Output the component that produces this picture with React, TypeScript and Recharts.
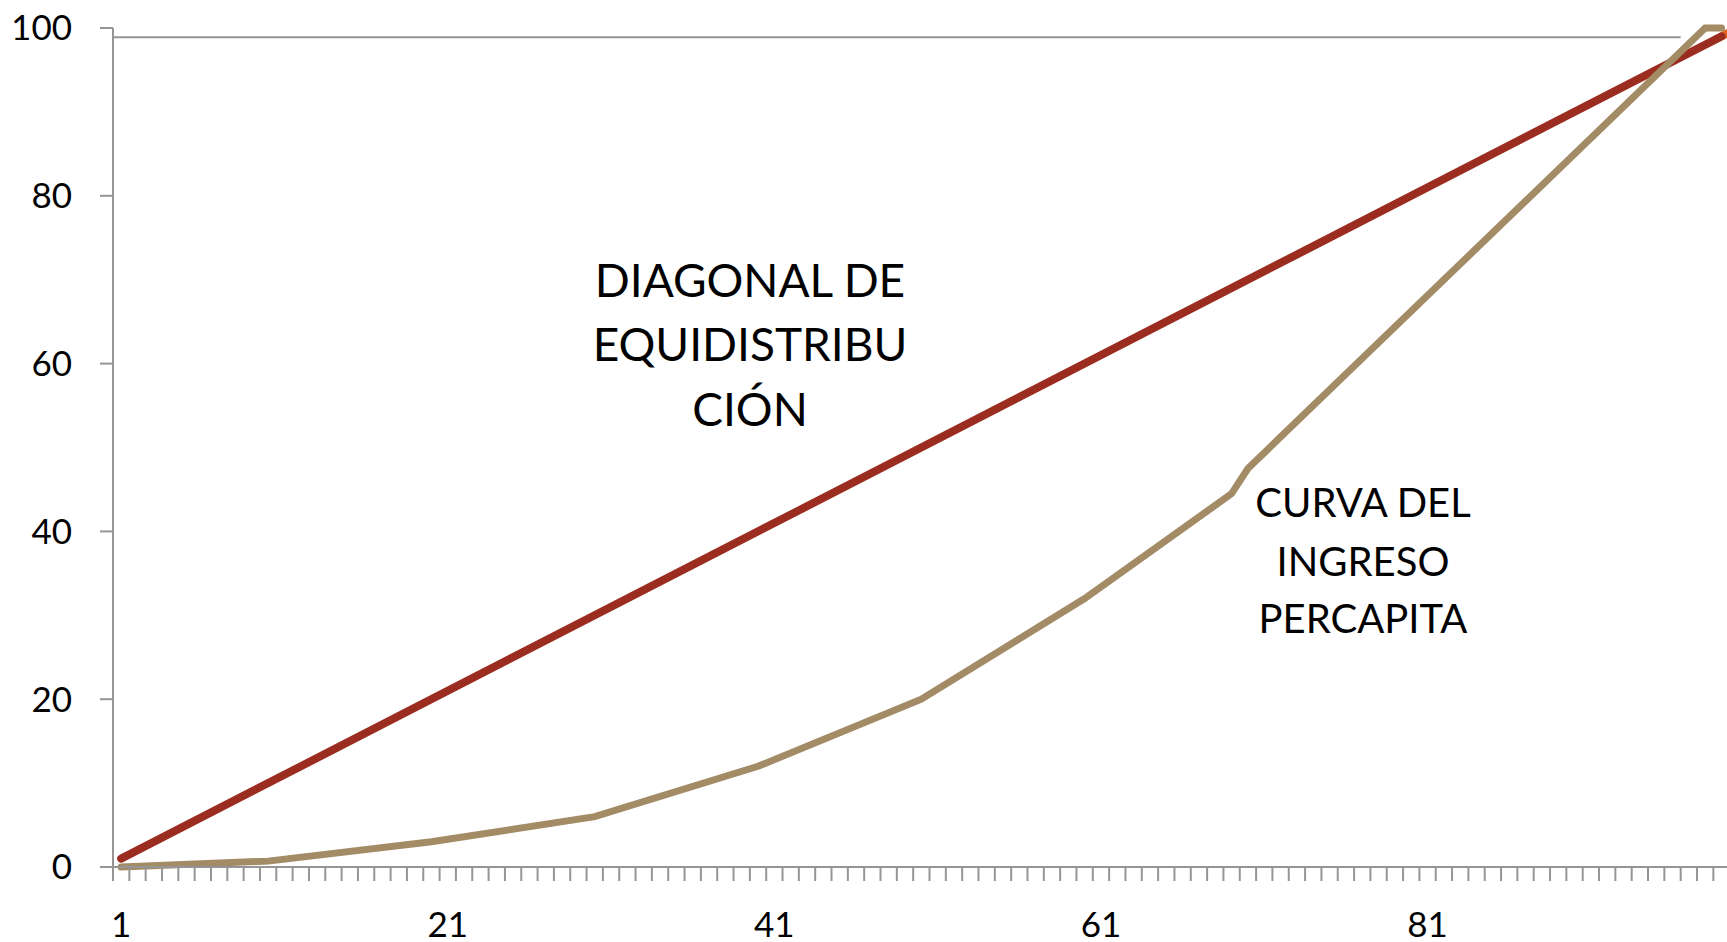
import React from "react"
import {
  LineChart,
  Line,
  XAxis,
  YAxis,
  ReferenceLine,
} from "recharts"

// categories along the x axis (1..100, last one cut off by the frame)
const categories = Array.from({ length: 100 }, (_, i) => i + 1)
const xTickLabels = [1, 21, 41, 61, 81]
const yTicks = [0, 20, 40, 60, 80, 100]

// diagonal de equidistribución
const diagonalX = [1, 99]
const diagonalY = [1, 99]

// orange tail that peeks out at the end of the diagonal
const tailX = [99, 100]
const tailY = [99, 100]

// curva del ingreso percapita
const curveX = [1, 10, 20, 30, 40, 50, 60, 69, 70, 98, 99]
const curveY = [0, 0.7, 3, 6, 12, 20, 32, 44.5, 47.5, 100, 100]

// thin grey line near the top
const topLineValue = 98.9
const topLineFrom = 0.5
const topLineTo = 96.5

const FONT = "Lato, 'Open Sans', sans-serif"
const AXIS_GREY = "#959595"

const toPoints = (xs: number[], ys: number[]) =>
  xs.map((x, i) => ({ x, y: ys[i] }))

const diagonalData = toPoints(diagonalX, diagonalY)
const tailData = toPoints(tailX, tailY)
const curveData = toPoints(curveX, curveY)

// tick marks sit between categories (Excel style), labels at the category
const boundaryTicks = [0.5, ...categories.map(c => c + 0.5)]
const xTicks = [...boundaryTicks, ...xTickLabels].sort((a, b) => a - b)
const xDomain: [number, number] = [0.5, categories.length + 0.5]

function XTick(props: any) {
  const { x, y, payload } = props
  const v = payload.value
  if (xTickLabels.includes(v)) {
    return (
      <text
        x={x}
        y={y + 70}
        textAnchor="middle"
        fontSize={35}
        fontFamily={FONT}
        fill="#000"
      >
        {v}
      </text>
    )
  }
  return <line x1={x} x2={x} y1={y} y2={y + 14} stroke={AXIS_GREY} strokeWidth={2} />
}

export default function App() {
  return (
    <div
      style={{
        position: "fixed",
        left: 0,
        top: 0,
        width: 1727,
        height: 942,
        overflow: "hidden",
        background: "#fff",
      }}
    >
      <LineChart
        width={1746}
        height={942}
        margin={{ top: 28, right: 0, bottom: 0, left: 0 }}
      >
        <XAxis
          type="number"
          dataKey="x"
          domain={xDomain}
          ticks={xTicks}
          interval={0}
          height={75}
          tickSize={0}
          tickMargin={0}
          tickLine={false}
          axisLine={{ stroke: AXIS_GREY, strokeWidth: 2 }}
          tick={<XTick />}
        />
        <YAxis
          type="number"
          domain={[0, 100]}
          ticks={yTicks}
          interval={0}
          width={113}
          tickSize={13}
          tickMargin={28}
          tickLine={{ stroke: AXIS_GREY, strokeWidth: 2 }}
          axisLine={{ stroke: AXIS_GREY, strokeWidth: 2 }}
          tick={{ fill: "#000", fontSize: 35, fontFamily: FONT }}
        />
        <ReferenceLine
          segment={[
            { x: topLineFrom, y: topLineValue },
            { x: topLineTo, y: topLineValue },
          ]}
          stroke={AXIS_GREY}
          strokeWidth={2}
        />
        <Line
          data={tailData}
          dataKey="y"
          type="linear"
          stroke="#E0601C"
          strokeWidth={8}
          dot={false}
          activeDot={false}
          isAnimationActive={false}
        />
        <Line
          data={diagonalData}
          dataKey="y"
          type="linear"
          stroke="#9B2D20"
          strokeWidth={8}
          strokeLinecap="round"
          dot={false}
          activeDot={false}
          isAnimationActive={false}
        />
        <Line
          data={curveData}
          dataKey="y"
          type="linear"
          stroke="#A38B66"
          strokeWidth={7}
          strokeLinecap="round"
          dot={false}
          activeDot={false}
          isAnimationActive={false}
        />
      </LineChart>
      <svg
        width={1727}
        height={942}
        style={{ position: "absolute", left: 0, top: 0, pointerEvents: "none" }}
      >
        <g fontFamily={FONT} fill="#000" textAnchor="middle">
          <text x={750} y={297} fontSize={46}>DIAGONAL DE</text>
          <text x={750} y={361} fontSize={46}>EQUIDISTRIBU</text>
          <text x={750} y={426} fontSize={46}>CIÓN</text>
          <text x={1363} y={517} fontSize={40}>CURVA DEL</text>
          <text x={1363} y={576} fontSize={40}>INGRESO</text>
          <text x={1363} y={633} fontSize={40}>PERCAPITA</text>
        </g>
      </svg>
    </div>
  )
}
